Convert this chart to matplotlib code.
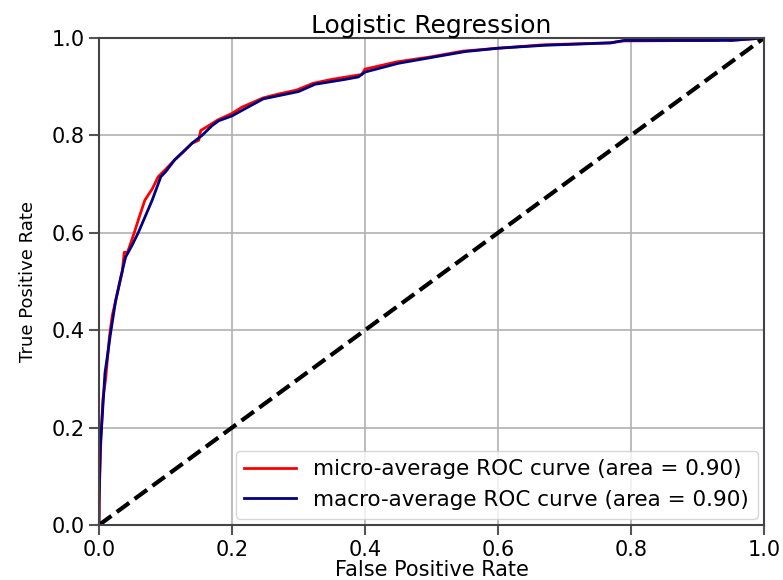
import matplotlib
matplotlib.use("Agg")
import matplotlib.pyplot as plt

# ROC curve points
micro_fpr = [0.0, 0.0, 0.001, 0.003, 0.006, 0.010, 0.012, 0.014, 0.016, 0.020,
             0.025, 0.030, 0.035, 0.038, 0.043, 0.048, 0.053, 0.060, 0.069,
             0.080, 0.089, 0.100, 0.114, 0.130, 0.140, 0.150, 0.153, 0.165,
             0.179, 0.200, 0.215, 0.247, 0.270, 0.297, 0.322, 0.350, 0.372,
             0.395, 0.400, 0.448, 0.498, 0.547, 0.600, 0.668, 0.768, 0.788,
             0.930, 0.940, 0.950, 1.0]
micro_tpr = [0.0, 0.0, 0.09, 0.18, 0.26, 0.30, 0.33, 0.36, 0.39, 0.43,
             0.46, 0.49, 0.52, 0.56, 0.56, 0.58, 0.60, 0.63, 0.667,
             0.69, 0.715, 0.73, 0.75, 0.77, 0.784, 0.79, 0.81, 0.82,
             0.832, 0.845, 0.858, 0.877, 0.885, 0.893, 0.907, 0.915, 0.92,
             0.925, 0.936, 0.951, 0.961, 0.973, 0.979, 0.986, 0.99, 0.994,
             0.995, 0.998, 0.995, 1.0]

macro_fpr = [0.0, 0.0, 0.002, 0.0065, 0.009, 0.013, 0.017, 0.025, 0.033,
             0.040, 0.050, 0.059, 0.070, 0.080, 0.093, 0.100, 0.114, 0.140,
             0.155, 0.170, 0.180, 0.200, 0.220, 0.247, 0.300, 0.325, 0.370,
             0.390, 0.400, 0.450, 0.500, 0.550, 0.600, 0.670, 0.770, 0.790,
             0.950, 1.0]
macro_tpr = [0.0, 0.05, 0.16, 0.257, 0.312, 0.35, 0.39, 0.46, 0.51,
             0.55, 0.575, 0.60, 0.635, 0.667, 0.715, 0.725, 0.75, 0.784,
             0.80, 0.82, 0.83, 0.84, 0.855, 0.875, 0.89, 0.905, 0.915,
             0.92, 0.93, 0.948, 0.96, 0.972, 0.979, 0.985, 0.99, 0.995,
             0.995, 1.0]

micro_auc = 0.90
macro_auc = 0.90
ticks = [0.0, 0.2, 0.4, 0.6, 0.8, 1.0]

fig = plt.figure(figsize=(7.83, 5.8), dpi=100)
ax = fig.add_axes([0.1264, 0.0948, 0.8493, 0.8397])

ax.plot(micro_fpr, micro_tpr, color="red", lw=2,
        label="micro-average ROC curve (area = %0.2f)" % micro_auc)
ax.plot(macro_fpr, macro_tpr, color="navy", lw=2,
        label="macro-average ROC curve (area = %0.2f)" % macro_auc)
ax.plot([0, 1], [0, 1], "k--", lw=3)

ax.set_xlim(0.0, 1.0)
ax.set_ylim(0.0, 1.0)
ax.set_xticks(ticks)
ax.set_yticks(ticks)
ax.tick_params(labelsize=15, length=7, width=1.5, color="#555555")
ax.grid(True, color="#b0b0b0", lw=1.2)
for sp in ax.spines.values():
    sp.set_linewidth(1.5)
    sp.set_color("#444444")

ax.set_xlabel("False Positive Rate", fontsize=15, labelpad=0)
ax.set_ylabel("True Positive Rate", fontsize=13, labelpad=10)
ax.set_title("Logistic Regression", fontsize=18, pad=3)
ax.legend(loc="lower right", fontsize=15.5, borderaxespad=0.3,
          handlelength=2.4)

fig.savefig("out.png", dpi=100)
